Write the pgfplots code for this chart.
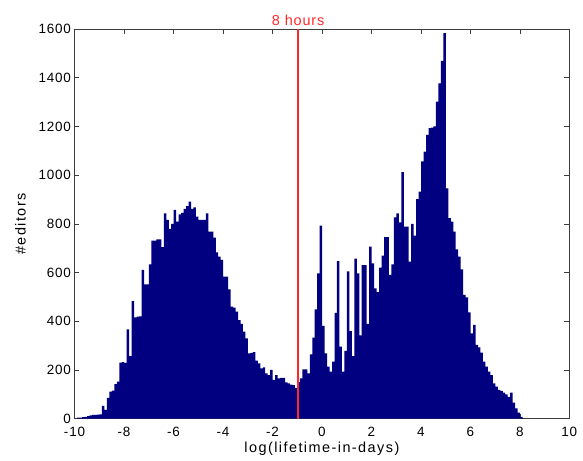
\documentclass[border=0pt]{standalone}
\usepackage{pgfplots}
\usepackage{pgfplotstable}
\usepackage{fontspec}
\setmainfont{Liberation Sans}
\pgfplotsset{compat=1.18}
\definecolor{barblue}{RGB}{0,0,128}
\definecolor{linered}{RGB}{255,40,40}
\definecolor{axgray}{RGB}{60,60,60}
\pgfplotstableread{
x y
-9.89 4
-9.79 4
-9.69 6
-9.59 7
-9.49 11
-9.39 14
-9.29 16
-9.19 16
-9.09 17
-8.99 18
-8.89 53
-8.79 36
-8.69 85
-8.59 111
-8.49 115
-8.39 142
-8.29 152
-8.19 230
-8.09 232
-7.99 229
-7.89 367
-7.79 257
-7.69 483
-7.59 416
-7.49 419
-7.39 420
-7.29 611
-7.19 552
-7.09 552
-6.99 634
-6.89 731
-6.79 731
-6.69 736
-6.59 736
-6.49 704
-6.39 843
-6.29 816
-6.19 779
-6.09 800
-5.99 857
-5.89 809
-5.79 839
-5.69 845
-5.59 861
-5.49 873
-5.39 891
-5.29 861
-5.19 868
-5.09 830
-4.99 816
-4.89 816
-4.79 816
-4.69 843
-4.59 768
-4.49 768
-4.39 743
-4.29 683
-4.19 665
-4.09 652
-3.99 583
-3.89 583
-3.79 531
-3.69 460
-3.59 456
-3.49 440
-3.39 405
-3.29 389
-3.19 357
-3.09 330
-2.99 268
-2.89 270
-2.79 273
-2.69 238
-2.59 227
-2.49 207
-2.39 211
-2.29 186
-2.19 179
-2.09 200
-1.99 159
-1.89 179
-1.79 166
-1.69 168
-1.59 168
-1.49 149
-1.39 145
-1.29 140
-1.19 138
-1.09 127
-0.99 150
-0.89 166
-0.79 203
-0.69 203
-0.59 186
-0.49 264
-0.39 333
-0.29 449
-0.19 597
-0.09 793
0.01 381
0.11 268
0.21 214
0.31 193
0.41 234
0.51 435
0.61 647
0.71 296
0.81 193
0.91 278
1.01 605
1.11 360
1.21 257
1.31 657
1.41 597
1.51 342
1.61 631
1.71 631
1.81 389
1.91 706
2.01 638
2.11 535
2.21 520
2.31 620
2.41 670
2.51 745
2.61 745
2.71 590
2.81 634
2.91 827
3.01 843
3.11 806
3.21 1012
3.31 789
3.41 789
3.51 645
3.61 800
3.71 752
3.81 901
3.91 932
4.01 1056
4.11 1097
4.21 1165
4.31 1193
4.41 1195
4.51 1200
4.61 1302
4.71 1377
4.81 1469
4.91 1583
5.01 946
5.11 823
5.21 809
5.31 768
5.41 695
5.51 665
5.61 613
5.71 508
5.81 498
5.91 437
6.01 350
6.11 385
6.21 303
6.31 293
6.41 271
6.51 234
6.61 214
6.71 193
6.81 179
6.91 145
7.01 132
7.11 118
7.21 114
7.31 107
7.41 100
7.51 90
7.61 107
7.71 66
7.81 42
7.91 25
8.01 8
8.11 0
}\histdata
\begin{document}
\begin{tikzpicture}
\begin{axis}[
  scale only axis,
  width=494.8bp, height=389.7bp,
  xmin=-10, xmax=10, ymin=0, ymax=1600,
  enlargelimits=false,
  xtick={-10,-8,...,10},
  ytick={0,200,...,1600},
  tick align=inside,
  major tick length=5bp,
  axis line style={axgray, line width=0.6bp},
  tick style={axgray, line width=0.6bp},
  /pgf/number format/assume math mode=true,
  /pgf/number format/1000 sep={},
  ticklabel style={font=\fontsize{13.5}{15}\selectfont\addfontfeature{LetterSpace=6}, text=black},
  xticklabel style={yshift=-5bp},
  label style={font=\fontsize{14.5}{16}\selectfont\addfontfeature{LetterSpace=10}},
  xlabel={log(lifetime-in-days)},
  ylabel={\#editors},
  xlabel style={yshift=2bp},
  ylabel style={yshift=6bp},
  clip mode=individual,
]
\addplot[ybar interval, fill=barblue, draw=none] table[x=x, y=y] {\histdata};
\addplot[linered, line width=1.8bp] coordinates {(-0.96,0) (-0.96,1600)};
\node[anchor=south, text=linered, font=\fontsize{14.5}{16}\selectfont\addfontfeature{LetterSpace=6}, inner sep=3bp] at (axis cs:-0.96,1600) {8 hours};
\end{axis}
\pgfresetboundingbox
\path[use as bounding box] ([xshift=-74.5bp,yshift=-42.3bp]current axis.south west) rectangle ([xshift=13.7bp,yshift=29bp]current axis.north east);
\end{tikzpicture}
\end{document}
